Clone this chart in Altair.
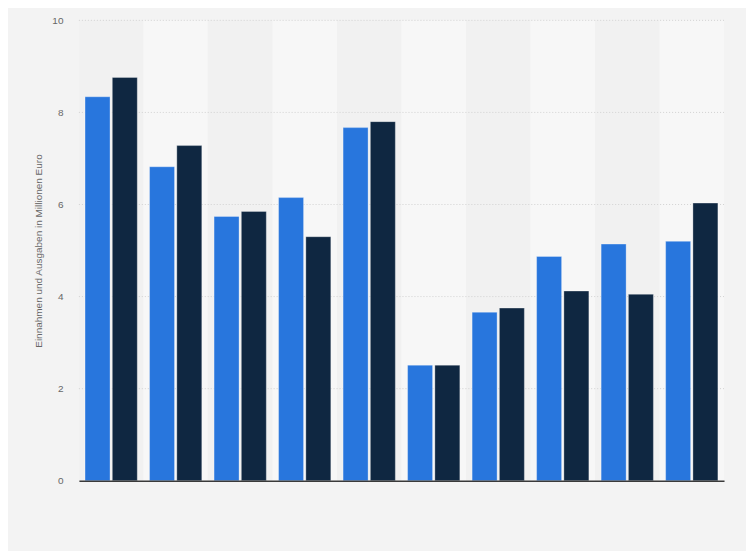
import altair as alt
import pandas as pd

# ---- data ----
categories = ["1", "2", "3", "4", "5", "6", "7", "8", "9", "10"]
series = ["Einnahmen", "Ausgaben"]
einnahmen = [8.34, 6.82, 5.74, 6.15, 7.67, 2.51, 3.66, 4.87, 5.14, 5.20]
ausgaben = [8.76, 7.28, 5.85, 5.30, 7.80, 2.51, 3.75, 4.12, 4.05, 6.03]
y_ticks = [0, 2, 4, 6, 8, 10]

# ---- styles ----
series_colors = ["#2876dd", "#0f2741"]
band_colors = ["#f1f1f1", "#f7f7f7"]

bars_df = pd.DataFrame({
    "Kategorie": categories * 2,
    "Serie": [series[0]] * len(categories) + [series[1]] * len(categories),
    "Wert": einnahmen + ausgaben,
})
bands_df = pd.DataFrame({
    "Kategorie": categories,
    "Band": [i % 2 for i in range(len(categories))],
})
grid_df = pd.DataFrame({"Tick": y_ticks[1:]})

x_scale = alt.Scale(domain=categories, paddingInner=0, paddingOuter=0)
y_scale = alt.Scale(domain=[0, 10], nice=False)

x_enc = alt.X("Kategorie:N", scale=x_scale, sort=None,
              axis=alt.Axis(labels=False, ticks=False, title=None,
                            domain=True, domainColor="#3a3a3a",
                            domainWidth=1.5, zindex=1))

bands = alt.Chart(bands_df).mark_rect().encode(
    x=x_enc,
    color=alt.Color("Band:O", scale=alt.Scale(domain=[0, 1], range=band_colors),
                    legend=None),
)

grid = alt.Chart(grid_df).mark_rule(color="#d2d2d2", strokeDash=[1, 2],
                                     strokeWidth=1).encode(
    y=alt.Y("Tick:Q", scale=y_scale),
)

bars = alt.Chart(bars_df).mark_bar(stroke="#ffffff", strokeOpacity=0.3,
                                   strokeWidth=1).encode(
    x=x_enc,
    xOffset=alt.XOffset("Serie:N", sort=series,
                        scale=alt.Scale(paddingInner=0.084, paddingOuter=0.225)),
    y=alt.Y("Wert:Q", scale=y_scale,
            axis=alt.Axis(values=y_ticks, grid=False, ticks=False, domain=False,
                          labelPadding=16, labelColor="#666666",
                          labelFontSize=10, labelFont="Liberation Sans",
                          title="Einnahmen und Ausgaben in Millionen Euro",
                          titleColor="#666666", titleFontSize=10,
                          titleFontWeight="normal", titleFont="Liberation Sans",
                          titlePadding=8)),
    color=alt.Color("Serie:N", sort=series,
                    scale=alt.Scale(domain=series, range=series_colors),
                    legend=None),
)

chart = alt.layer(bands, grid, bars).resolve_scale(color="independent").properties(
    width=646,
    height=461,
    background="#f3f3f3",
    padding={"left": 71, "top": 12, "right": 22, "bottom": 70},
    autosize=alt.AutoSizeParams(type="none"),
).configure_view(stroke=None)

chart.save("out.html", embed_options={"renderer": "svg", "actions": False})
